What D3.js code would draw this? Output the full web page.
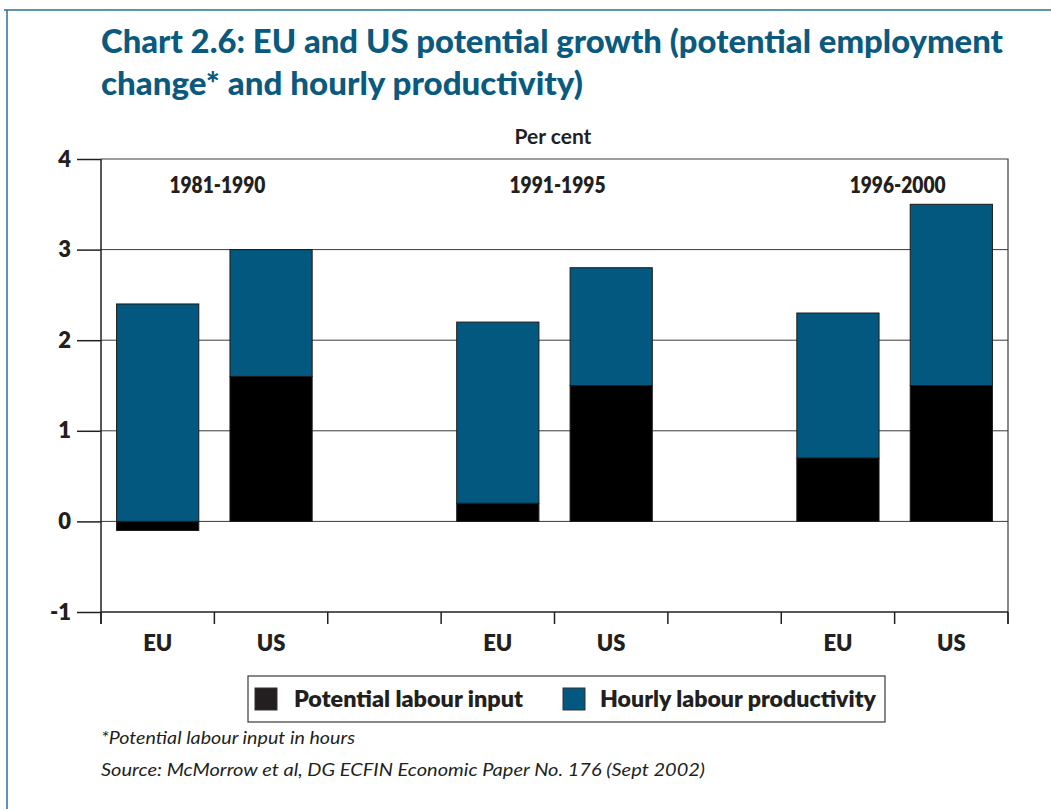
<!DOCTYPE html>
<html>
<head>
<meta charset="utf-8">
<script src="https://cdn.jsdelivr.net/npm/d3@7"></script>
<style>
  html, body { margin: 0; padding: 0; background: #fff; }
  svg { display: block; }
  text { font-family: Lato, "Open Sans", sans-serif; }
</style>
</head>
<body>
<svg id="chart" width="1051" height="809"></svg>
<script>
// Chart data
const periods = ["1981-1990", "1991-1995", "1996-2000"];
const categories = ["EU-1", "US-1", "gap-1", "EU-2", "US-2", "gap-2", "EU-3", "US-3"];
const categoryLabels = ["EU", "US", "", "EU", "US", "", "EU", "US"];
const barKeys = ["EU-1", "US-1", "EU-2", "US-2", "EU-3", "US-3"];
const labourInput = [-0.1, 1.6, 0.2, 1.5, 0.7, 1.5];
const hourlyProductivity = [2.4, 1.4, 2.0, 1.3, 1.6, 2.0];
const yTicks = [4, 3, 2, 1, 0, -1];
const seriesNames = ["Potential labour input", "Hourly labour productivity"];

const BLUE = "#03587f";
const BLACK = "#000000";
const INK = "#231f20";

const svg = d3.select("#chart");

// Page frame
svg.append("line").attr("x1", 4).attr("x2", 1051).attr("y1", 10).attr("y2", 10)
  .attr("stroke", "#2b6f96").attr("stroke-width", 1.5);
svg.append("line").attr("x1", 7).attr("x2", 7).attr("y1", 10).attr("y2", 809)
  .attr("stroke", "#2b6f96").attr("stroke-width", 1.5);

// Title
const titleLines = [
  { text: "Chart 2.6: EU and US potential growth (potential employment", y: 53, w: 902 },
  { text: "change* and hourly productivity)", y: 95, w: 482 }
];
titleLines.forEach(l => {
  svg.append("text").attr("x", 101).attr("y", l.y)
    .attr("font-size", 32).attr("font-weight", 900).attr("fill", "#0a5a80")
    .attr("textLength", l.w).attr("lengthAdjust", "spacingAndGlyphs")
    .text(l.text);
});

svg.append("text").attr("x", 553).attr("y", 144).attr("text-anchor", "middle")
  .attr("font-size", 21).attr("font-weight", 700).attr("fill", INK).text("Per cent");

// Scales
const plot = { left: 101, right: 1008, top: 159, bottom: 612 };
const x = d3.scaleBand().domain(categories).range([plot.left, plot.right])
  .paddingInner(0.275).paddingOuter(0.1375);
const xb = d3.scaleBand().domain(categories).range([plot.left, plot.right]);
const y = d3.scaleLinear().domain([-1, 4]).range([plot.bottom, plot.top]);

// Horizontal gridlines
svg.append("g").selectAll("line").data(yTicks.filter(t => t > -1 && t < 4)).join("line")
  .attr("x1", plot.left).attr("x2", plot.right)
  .attr("y1", d => y(d)).attr("y2", d => y(d))
  .attr("stroke", "#3a3a3a").attr("stroke-width", 1);

// Stacked bars: negatives stack downward from zero, positives upward
const rows = barKeys.map((k, i) => {
  const segs = [];
  let pos = 0, neg = 0;
  [labourInput[i], hourlyProductivity[i]].forEach((v, s) => {
    if (v >= 0) { segs.push({ s, y0: pos, y1: pos + v }); pos += v; }
    else { segs.push({ s, y0: neg + v, y1: neg }); neg += v; }
  });
  return { key: k, segs };
});

const barG = svg.append("g");
rows.forEach(r => {
  barG.selectAll(null).data(r.segs).join("rect")
    .attr("x", x(r.key)).attr("width", x.bandwidth())
    .attr("y", d => y(d.y1)).attr("height", d => y(d.y0) - y(d.y1))
    .attr("fill", d => d.s === 0 ? BLACK : BLUE)
    .attr("stroke", "#1a1a1a").attr("stroke-width", 1);
});

// Plot frame: top and right edges
svg.append("path")
  .attr("d", `M${plot.left},${plot.top}H${plot.right}V${plot.bottom + 12}`)
  .attr("fill", "none").attr("stroke", "#3a3a3a").attr("stroke-width", 1.2);

// Y axis
const yAxis = svg.append("g").attr("transform", `translate(${plot.left},0)`)
  .call(d3.axisLeft(y).tickValues(yTicks).tickSize(24).tickPadding(6).tickFormat(d => String(d)));
yAxis.select(".domain").attr("stroke", INK).attr("stroke-width", 1.5)
  .attr("d", `M0,${plot.top}V${plot.bottom + 12}`);
yAxis.selectAll(".tick line").attr("stroke", INK).attr("stroke-width", 1.5);
yAxis.selectAll(".tick text").attr("font-size", 22).attr("font-weight", 800)
  .attr("fill", INK).attr("font-family", "Lato, sans-serif");

// X axis with ticks at band boundaries
const xAxis = svg.append("g").attr("transform", `translate(0,${plot.bottom})`);
xAxis.append("line").attr("x1", plot.left).attr("x2", plot.right)
  .attr("stroke", INK).attr("stroke-width", 1.5);
const bounds = categories.map(c => xb(c)).concat([plot.right]);
xAxis.selectAll(".bt").data(bounds).join("line")
  .attr("x1", d => d).attr("x2", d => d).attr("y1", 0).attr("y2", 12)
  .attr("stroke", INK).attr("stroke-width", 1.5);
xAxis.selectAll(".lbl").data(categories).join("text")
  .attr("x", d => xb(d) + xb.bandwidth() / 2).attr("y", 39)
  .attr("text-anchor", "middle").attr("font-size", 22).attr("font-weight", 800)
  .attr("fill", INK).text((d, i) => categoryLabels[i]);

// Period labels above each pair
svg.append("g").selectAll("text").data(periods).join("text")
  .attr("x", (d, i) => xb(categories[i * 3 + 1]) + 3)
  .attr("y", 193).attr("text-anchor", "middle")
  .attr("font-size", 22).attr("font-weight", 800).attr("fill", INK)
  .attr("textLength", 96).attr("lengthAdjust", "spacingAndGlyphs").text(d => d);

// Legend
const leg = svg.append("g");
leg.append("rect").attr("x", 248).attr("y", 676).attr("width", 637).attr("height", 46)
  .attr("fill", "#fff").attr("stroke", "#3a3a3a").attr("stroke-width", 1.2);
const legItems = [
  { name: seriesNames[0], color: "#231f20", sx: 255, tx: 294, w: 229 },
  { name: seriesNames[1], color: BLUE, sx: 563, tx: 600, w: 276 }
];
legItems.forEach(it => {
  leg.append("rect").attr("x", it.sx).attr("y", 688).attr("width", 22).attr("height", 22)
    .attr("fill", it.color).attr("stroke", "#333").attr("stroke-width", 1);
  leg.append("text").attr("x", it.tx).attr("y", 707).attr("font-size", 23)
    .attr("font-weight", 800).attr("fill", INK)
    .attr("textLength", it.w).attr("lengthAdjust", "spacingAndGlyphs").text(it.name);
});

// Footnotes
svg.append("text").attr("x", 101).attr("y", 744).attr("font-size", 18)
  .attr("font-style", "italic").attr("fill", INK)
  .attr("textLength", 254).attr("lengthAdjust", "spacingAndGlyphs")
  .text("*Potential labour input in hours");
svg.append("text").attr("x", 101).attr("y", 776).attr("font-size", 18)
  .attr("font-style", "italic").attr("fill", INK)
  .attr("textLength", 604).attr("lengthAdjust", "spacingAndGlyphs")
  .text("Source: McMorrow et al, DG ECFIN Economic Paper No. 176 (Sept 2002)");
</script>
</body>
</html>
